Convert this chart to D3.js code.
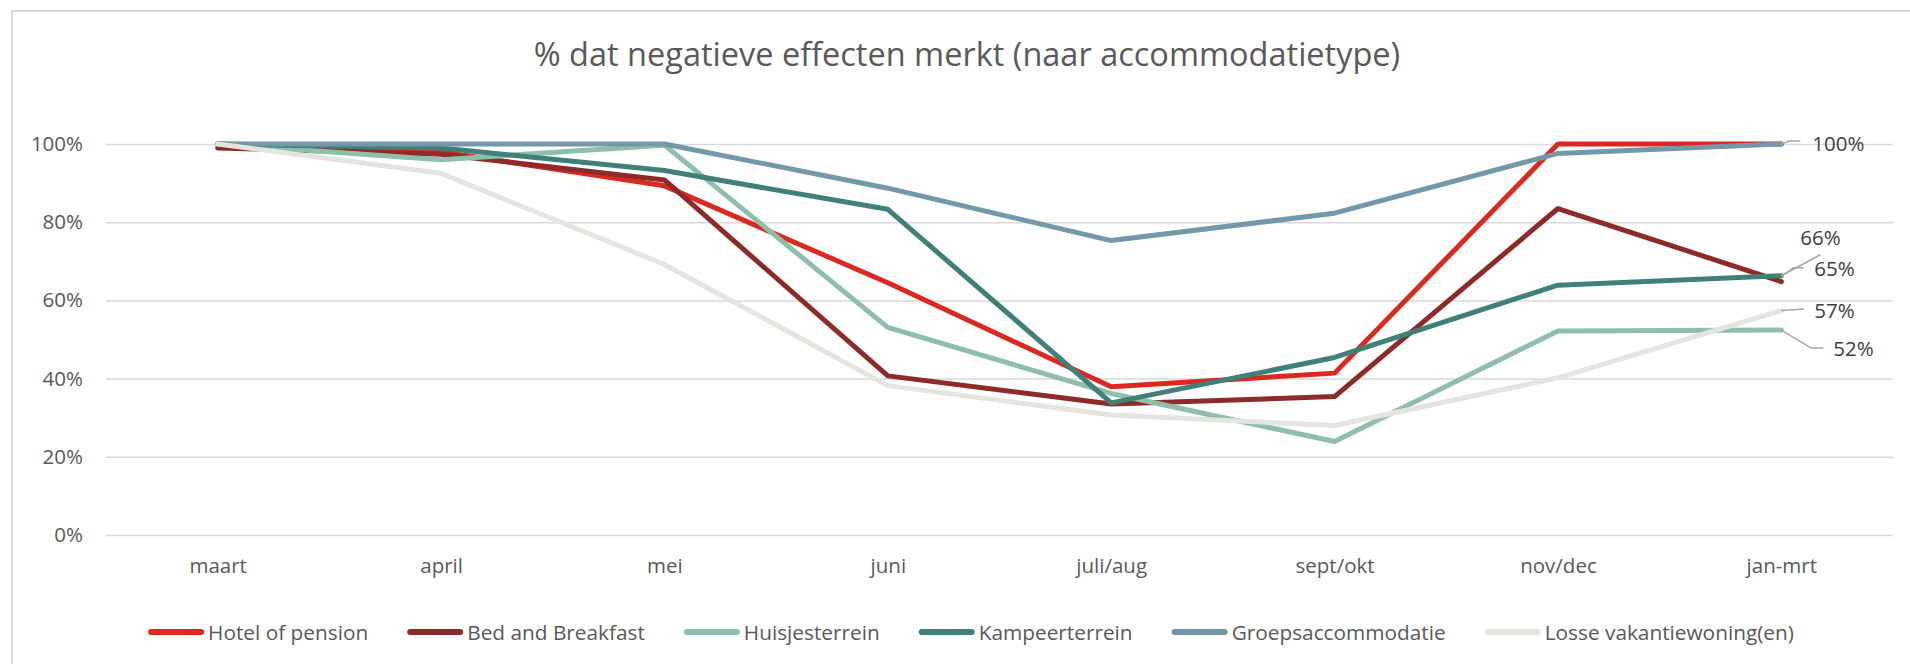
<!DOCTYPE html>
<html>
<head>
<meta charset="utf-8">
<script src="https://cdn.jsdelivr.net/npm/d3@7"></script>
<style>
  html, body { margin: 0; padding: 0; background: #ffffff; }
  svg { display: block; font-family: "Open Sans", "Noto Sans", sans-serif; }
</style>
</head>
<body>
<svg id="chart" width="1910" height="664"></svg>
<script>
// ---- data ----
const categories = ["maart", "april", "mei", "juni", "juli/aug", "sept/okt", "nov/dec", "jan-mrt"];
const seriesNames = ["Hotel of pension", "Bed and Breakfast", "Huisjesterrein", "Kampeerterrein", "Groepsaccommodatie", "Losse vakantiewoning(en)"];
const hotel   = [100, 98, 89.3, 64.5, 37.9, 41.4, 100, 100];
const bnb     = [99, 97.4, 90.8, 40.7, 33.5, 35.4, 83.5, 64.8];
const huisjes = [100, 96, 99.7, 53.1, 36.2, 23.9, 52.2, 52.4];
const kampeer = [100, 99, 93.2, 83.3, 33.8, 45.4, 63.9, 66.3];
const groeps  = [100, 100, 100, 88.7, 75.3, 82.3, 97.6, 100];
const losse   = [100, 92.5, 69.2, 38.2, 30.7, 28, 40.2, 57.4];
const yTicks  = [0, 20, 40, 60, 80, 100];
const title   = "% dat negatieve effecten merkt (naar accommodatietype)";

// ---- styling ----
const colors = ["#dc281e", "#8e2a27", "#8dbfaa", "#3f8079", "#7298aa", "#e5e5df"];
const allValues = [hotel, bnb, huisjes, kampeer, groeps, losse];
const series = seriesNames.map((name, i) => ({ name, values: allValues[i], color: colors[i] }));

const svg = d3.select("#chart");
const textColor = "#595959";

// chart border (cropped on right/bottom)
svg.append("path")
  .attr("d", "M12,664 V11 H1910")
  .attr("fill", "none")
  .attr("stroke", "#d9d9d9")
  .attr("stroke-width", 2);

// title
svg.append("text")
  .attr("x", 967).attr("y", 66)
  .attr("text-anchor", "middle")
  .attr("fill", textColor)
  .style("font-size", "32.5px")
  .text(title);

const x = d3.scalePoint().domain(categories).range([106, 1893]).padding(0.5);
const y = d3.scaleLinear().domain([0, 100]).range([535, 144]);

// y axis with gridlines
const yAxis = svg.append("g")
  .attr("transform", "translate(106,0)")
  .call(d3.axisLeft(y).tickValues(yTicks).tickFormat(d => d + "%")
    .tickSizeInner(-1787).tickSizeOuter(0).tickPadding(23));
yAxis.select(".domain").remove();
yAxis.selectAll(".tick line").attr("stroke", "#d9d9d9").attr("stroke-width", 1.5);
yAxis.selectAll(".tick text").attr("fill", textColor).style("font-size", "20.5px").style("font-family", "'Open Sans', sans-serif");

// x axis labels
const xAxis = svg.append("g")
  .attr("transform", "translate(0,535)")
  .call(d3.axisBottom(x).tickSize(0).tickPadding(23));
xAxis.select(".domain").remove();
xAxis.selectAll(".tick text").attr("fill", textColor).style("font-size", "20.5px").style("font-family", "'Open Sans', sans-serif");

// lines
const line = d3.line().x((d, i) => x(categories[i])).y(d => y(d));
svg.append("g").selectAll("path").data(series).join("path")
  .attr("d", s => line(s.values))
  .attr("fill", "none")
  .attr("stroke", s => s.color)
  .attr("stroke-width", 5)
  .attr("stroke-linejoin", "round")
  .attr("stroke-linecap", "round");

// data labels at last point (label offsets relative to end point)
const labelCfg = [
  { s: 4, tx: 31, ty: 0,   leader: [[0,0],[8,-3],[19,-3]] },
  { s: 3, tx: 19, ty: -38, leader: [[0,0],[39,-21]] },
  { s: 1, tx: 33, ty: -13, leader: [[0,-5],[12,-14],[22,-14]] },
  { s: 5, tx: 33, ty: 0,   leader: [[0,0],[23,-1.5]] },
  { s: 2, tx: 52, ty: 19,  leader: [[0,0],[30,18],[42,18]] }
];
const last = categories.length - 1;
const lg = svg.append("g");
labelCfg.forEach(c => {
  const s = series[c.s];
  const px = x(categories[last]), py = y(s.values[last]);
  lg.append("path")
    .attr("d", d3.line()(c.leader.map(p => [px + p[0], py + p[1]])))
    .attr("fill", "none").attr("stroke", "#a6a6a6").attr("stroke-width", 1.5);
  lg.append("text")
    .attr("x", px + c.tx).attr("y", py + c.ty)
    .attr("dy", "0.35em")
    .attr("fill", "#404040")
    .style("font-size", "20.5px")
    .text(Math.round(s.values[last]) + "%");
});

// legend
const leg = svg.append("g");
const items = series.map(s => {
  const g = leg.append("g");
  g.append("line").attr("x1", 3).attr("x2", 53).attr("y1", 632).attr("y2", 632)
    .attr("stroke", s.color).attr("stroke-width", 6).attr("stroke-linecap", "round");
  const t = g.append("text").attr("x", 60).attr("y", 640)
    .attr("fill", textColor).style("font-size", "20.8px").text(s.name);
  return { g, w: 60 + t.node().getComputedTextLength() };
});
const gap = 39;
const total = d3.sum(items, d => d.w) + gap * (items.length - 1);
let cx = 971 - total / 2;
items.forEach(it => { it.g.attr("transform", `translate(${cx},0)`); cx += it.w + gap; });
</script>
</body>
</html>
